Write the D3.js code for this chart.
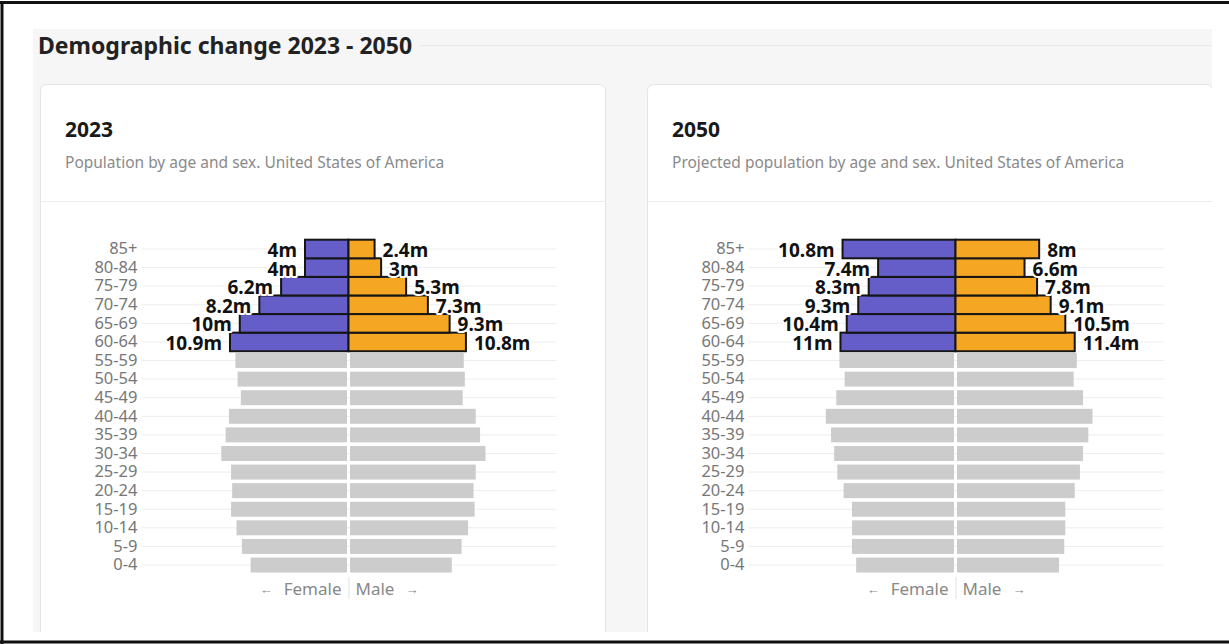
<!DOCTYPE html>
<html>
<head>
<meta charset="utf-8">
<script src="https://cdn.jsdelivr.net/npm/d3@7"></script>
<style>
  html, body { margin: 0; padding: 0; background: #fff; }
  svg { display: block; font-family: "Noto Sans", "Open Sans", sans-serif; }
</style>
</head>
<body>
<svg id="chart" width="1229" height="644"></svg>
<script>
// Age groups, youngest first
const ageGroups = ["0-4", "5-9", "10-14", "15-19", "20-24", "25-29", "30-34", "35-39",
  "40-44", "45-49", "50-54", "55-59", "60-64", "65-69", "70-74", "75-79", "80-84", "85+"];

// Age groups shown in colour with value labels
const highlightGroups = ["60-64", "65-69", "70-74", "75-79", "80-84", "85+"];

// Population in millions, same order as ageGroups
const female2023 = [9.0, 9.8, 10.3, 10.8, 10.7, 10.8, 11.7, 11.3, 11.0, 9.9, 10.2, 10.4,
  10.9, 10, 8.2, 6.2, 4, 4];
const male2023 = [9.5, 10.4, 11.0, 11.6, 11.5, 11.7, 12.6, 12.1, 11.7, 10.5, 10.7, 10.6,
  10.8, 9.3, 7.3, 5.3, 3, 2.4];
const female2050 = [9.5, 9.9, 9.9, 9.9, 10.7, 11.3, 11.6, 11.9, 12.4, 11.4, 10.6, 11.1,
  11, 10.4, 9.3, 8.3, 7.4, 10.8];
const male2050 = [9.9, 10.4, 10.5, 10.5, 11.4, 11.9, 12.2, 12.7, 13.1, 12.2, 11.3, 11.6,
  11.4, 10.5, 9.1, 7.8, 6.6, 8];

const pageTitle = "Demographic change 2023 - 2050";
const panels = [
  { title: "2023", subtitle: "Population by age and sex. United States of America",
    female: female2023, male: male2023 },
  { title: "2050", subtitle: "Projected population by age and sex. United States of America",
    female: female2050, male: male2050 }
];

const femaleColor = "#655ec8";
const maleColor = "#f5a623";
const restColor = "#cccccc";

const svg = d3.select("#chart");

// clip region for the dashboard area
svg.append("defs").append("clipPath").attr("id", "board")
  .append("rect").attr("x", 33).attr("y", 29).attr("width", 1179).attr("height", 603);

const board = svg.append("g").attr("clip-path", "url(#board)");

board.append("rect")
  .attr("x", 33).attr("y", 29).attr("width", 1179).attr("height", 603)
  .attr("fill", "#f6f6f6");

const titleText = board.append("text")
  .attr("x", 38).attr("y", 54)
  .attr("font-size", 23).attr("font-weight", 700).attr("fill", "#222")
  .text(pageTitle);

const titleEnd = 38 + titleText.node().getComputedTextLength();
board.append("line")
  .attr("x1", titleEnd + 8).attr("x2", 1212).attr("y1", 45.5).attr("y2", 45.5)
  .attr("stroke", "#e8e8e8").attr("stroke-width", 1);

const cardX = [40, 647];
const cardW = 565;

panels.forEach((p, i) => {
  const x0 = cardX[i];
  const card = board.append("g");
  card.append("rect")
    .attr("x", x0 + 0.5).attr("y", 84.5).attr("width", cardW).attr("height", 600)
    .attr("rx", 6).attr("fill", "#fff").attr("stroke", "#e4e4e4");
  card.append("line")
    .attr("x1", x0 + 1).attr("x2", x0 + cardW).attr("y1", 201.5).attr("y2", 201.5)
    .attr("stroke", "#ececec");
  card.append("text")
    .attr("x", x0 + 25).attr("y", 137)
    .attr("font-size", 21).attr("font-weight", 700).attr("fill", "#1a1a1a")
    .text(p.title);
  card.append("text")
    .attr("x", x0 + 25).attr("y", 168)
    .attr("font-size", 15.5).attr("fill", "#8a8a8a")
    .text(p.subtitle);

  drawPyramid(card, x0 + 308.5, p.female, p.male);
});

function drawPyramid(g, cx, female, male) {
  const maxVal = d3.max(female.concat(male));
  const x = d3.scaleLinear().domain([0, maxVal]).range([0, 137]);
  const y = d3.scaleBand()
    .domain(ageGroups.slice().reverse())
    .range([239.7, 574.3])
    .padding(0);
  const bw = y.bandwidth();
  const rows = ageGroups.map((a, i) => ({
    age: a, f: female[i], m: male[i], hi: highlightGroups.includes(a)
  }));

  // gridlines
  g.append("g").selectAll("line").data(ageGroups).join("line")
    .attr("x1", cx - 207).attr("x2", cx + 208)
    .attr("y1", d => y(d) + bw / 2).attr("y2", d => y(d) + bw / 2)
    .attr("stroke", "#ededed").attr("stroke-width", 1);

  // age axis
  const axis = g.append("g")
    .attr("transform", `translate(${cx - 211},0)`)
    .call(d3.axisLeft(y).tickSize(0).tickPadding(0));
  axis.select(".domain").remove();
  axis.selectAll("text")
    .attr("font-family", "\"Noto Sans\", sans-serif")
    .attr("font-size", 16.5).attr("fill", "#777");

  // grey bars for the other age groups
  const inset = 1.8;
  const rest = rows.filter(r => !r.hi);
  g.append("g").selectAll("rect").data(rest).join("rect")
    .attr("x", d => cx - x(d.f)).attr("width", d => x(d.f) - 1.5)
    .attr("y", d => y(d.age) + inset).attr("height", bw - 2 * inset)
    .attr("fill", restColor);
  g.append("g").selectAll("rect").data(rest).join("rect")
    .attr("x", cx + 1.5).attr("width", d => x(d.m) - 1.5)
    .attr("y", d => y(d.age) + inset).attr("height", bw - 2 * inset)
    .attr("fill", restColor);

  // highlighted bars
  const hi = rows.filter(r => r.hi);
  g.append("g").selectAll("rect").data(hi).join("rect")
    .attr("x", d => cx - x(d.f)).attr("width", d => x(d.f))
    .attr("y", d => y(d.age)).attr("height", bw)
    .attr("fill", femaleColor).attr("stroke", "#151515").attr("stroke-width", 2);
  g.append("g").selectAll("rect").data(hi).join("rect")
    .attr("x", cx).attr("width", d => x(d.m))
    .attr("y", d => y(d.age)).attr("height", bw)
    .attr("fill", maleColor).attr("stroke", "#151515").attr("stroke-width", 2);

  // value labels
  const labelStyle = sel => sel
    .attr("font-size", 19).attr("font-weight", 700).attr("fill", "#111")
    .attr("stroke", "#fff").attr("stroke-width", 4).attr("stroke-linejoin", "round")
    .attr("paint-order", "stroke")
    .attr("dominant-baseline", "central");
  g.append("g").selectAll("text").data(hi).join("text")
    .attr("x", d => cx - x(d.f) - 8)
    .attr("y", d => y(d.age) + bw / 2 + 1)
    .attr("text-anchor", "end")
    .text(d => d.f + "m")
    .call(labelStyle);
  g.append("g").selectAll("text").data(hi).join("text")
    .attr("x", d => cx + x(d.m) + 8)
    .attr("y", d => y(d.age) + bw / 2 + 1)
    .attr("text-anchor", "start")
    .text(d => d.m + "m")
    .call(labelStyle);

  // sex legend under the pyramid
  g.append("line")
    .attr("x1", cx + 0.5).attr("x2", cx + 0.5).attr("y1", 577).attr("y2", 599)
    .attr("stroke", "#e2e2e2");
  const fl = g.append("text")
    .attr("x", cx - 7).attr("y", 595).attr("text-anchor", "end")
    .attr("font-size", 17).attr("fill", "#888");
  fl.append("tspan").attr("font-size", 13).attr("dy", -1).text("\u2190");
  fl.append("tspan").attr("dx", 11).attr("dy", 1).text("Female");
  const ml = g.append("text")
    .attr("x", cx + 7).attr("y", 595).attr("text-anchor", "start")
    .attr("font-size", 17).attr("fill", "#888");
  ml.append("tspan").text("Male");
  ml.append("tspan").attr("font-size", 13).attr("dx", 11).attr("dy", -1).text("\u2192");
}

// outer frame
const frame = svg.append("g").attr("stroke", "#111").attr("stroke-width", 3);
frame.append("line").attr("x1", 0).attr("x2", 1229).attr("y1", 2.5).attr("y2", 2.5);
frame.append("line").attr("x1", 2).attr("x2", 2).attr("y1", 1).attr("y2", 644);
frame.append("line").attr("x1", 0).attr("x2", 1229).attr("y1", 642).attr("y2", 642);
</script>
</body>
</html>
